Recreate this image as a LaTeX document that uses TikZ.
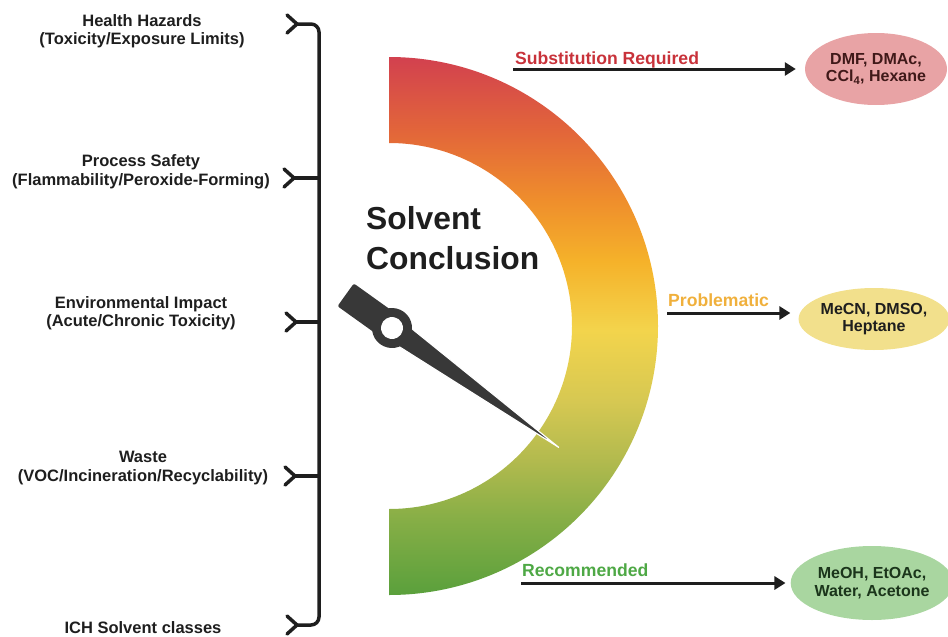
\documentclass[tikz,border=0pt]{standalone}
\usepackage{fontspec}
\setmainfont{Liberation Sans}
\usetikzlibrary{arrows.meta,shapes.geometric}
\definecolor{ink}{HTML}{1E1E1E}
\definecolor{needlec}{HTML}{383838}
\definecolor{g0}{HTML}{5AA03C}
\definecolor{g1}{HTML}{86AE46}
\definecolor{g2}{HTML}{B2BA4E}
\definecolor{g3}{HTML}{D6C852}
\definecolor{g4}{HTML}{F3D44C}
\definecolor{g5}{HTML}{F5B22A}
\definecolor{g6}{HTML}{EF8E2C}
\definecolor{g7}{HTML}{E2653A}
\definecolor{g8}{HTML}{D2414F}
\definecolor{redtag}{HTML}{C8323A}
\definecolor{yeltag}{HTML}{F0B03C}
\definecolor{grntag}{HTML}{4EA845}
\definecolor{pillred}{HTML}{E8A3A5}
\definecolor{pillyel}{HTML}{F2E08C}
\definecolor{pillgrn}{HTML}{A9D6A0}
\pgfdeclareverticalshading{gaugeshade}{100bp}{color(0bp)=(g0); color(25bp)=(g0); color(32bp)=(g1); color(37.5bp)=(g2); color(43bp)=(g3); color(49.6bp)=(g4); color(56bp)=(g5); color(61.7bp)=(g6); color(68.2bp)=(g7); color(75bp)=(g8); color(100bp)=(g8)}
\begin{document}
\begin{tikzpicture}[x=1pt,y=-1pt,
  lbl/.style={font=\bfseries\fontsize{16.5}{18.5}\selectfont, align=center, inner sep=0pt, text=ink},
  brk/.style={line width=3.5pt, draw=ink, line cap=round, line join=round},
  arr/.style={line width=3pt, draw=ink, -{Triangle[length=11pt,width=13pt]}},
  tag/.style={font=\bfseries\fontsize{17.6}{20}\selectfont, anchor=base west, inner sep=0pt},
  pill/.style={ellipse, inner sep=0pt, font=\bfseries\fontsize{16}{17.5}\selectfont, align=center}]
\useasboundingbox (0,0) rectangle (948,637);

% ---- gauge band ----
\shade[shading=gaugeshade] (389,57) arc[start angle=90, end angle=-90, radius=269pt]
  -- (389,509) arc[start angle=-90, end angle=90, radius=183pt] -- cycle;

% ---- title ----
\node[anchor=west, align=left, inner sep=0pt, text=ink,
  font=\bfseries\fontsize{31.8}{39.5}\selectfont] (title) at (366,238) {Solvent\\Conclusion};

% ---- needle ----
\begin{scope}[shift={(392,328)}, rotate=-35.6]
  \filldraw[fill=needlec, draw=white, line width=1.2pt, line join=round] (0,-12) -- (205,0) -- (0,12) -- cycle;
  \fill[needlec, rounded corners=2pt] (-57,-14) rectangle (0,14);
  \fill[needlec] (0,0) circle[radius=20pt];
  \fill[white] (0,0) circle[radius=11pt];
\end{scope}

% ---- left labels ----
\node[lbl] (haz) at (142,31) {Health Hazards\\(Toxicity/Exposure Limits)};
\node[lbl] (proc) at (141,172) {Process Safety\\(Flammability/Peroxide-Forming)};
\node[lbl] (env) at (141,313) {Environmental Impact\\(Acute/Chronic Toxicity)};
\node[lbl] (waste) at (143,468) {Waste\\(VOC/Incineration/Recyclability)};
\node[lbl] (ich) at (143,628) {ICH Solvent classes};

% ---- bracket ----
\coordinate (b1) at (297,24);
\coordinate (b2) at (294,178);
\coordinate (b3) at (296,322);
\coordinate (b4) at (295,476);
\coordinate (b5) at (297,625);
\draw[brk, rounded corners=8pt] (b1) -- (319,24) -- (319,625) -- (b5);
\foreach \c in {b2,b3,b4}{
  \draw[brk] (\c) -- (319,0 |- \c);
}
\foreach \c in {b1,b2,b3,b4,b5}{
  \draw[brk] ([shift={(-10,-9)}]\c) -- (\c) -- ([shift={(-10,9)}]\c);
}

% ---- outcome ellipses ----
\node[pill, fill=pillred, text=ink!85!red, minimum width=142pt, minimum height=72pt] (e1) at (876,69) {DMF, DMAc,\\CCl\textsubscript{4}, Hexane};
\node[pill, fill=pillyel, text=ink, minimum width=142pt, minimum height=62pt] (e2) at (874,319) {MeCN, DMSO,\\Heptane};
\node[pill, fill=pillgrn, text=ink!90!green, minimum width=146pt, minimum height=74pt] (e3) at (872,583) {MeOH, EtOAc,\\Water, Acetone};

% ---- tags and arrows ----
\node[tag, text=redtag] (t1) at (515,64) {Substitution Required};
\node[tag, text=yeltag] (t2) at (668,306) {Problematic};
\node[tag, text=grntag] (t3) at (522,576) {Recommended};
\coordinate (a1) at (513,69);
\coordinate (a2) at (667,313);
\coordinate (a3) at (521,583);
\draw[arr, shorten >=9pt] (a1) -- (a1 -| e1.west);
\draw[arr, shorten >=8pt] (a2) -- (a2 -| e2.west);
\draw[arr, shorten >=5pt] (a3) -- (a3 -| e3.west);
\end{tikzpicture}
\end{document}
